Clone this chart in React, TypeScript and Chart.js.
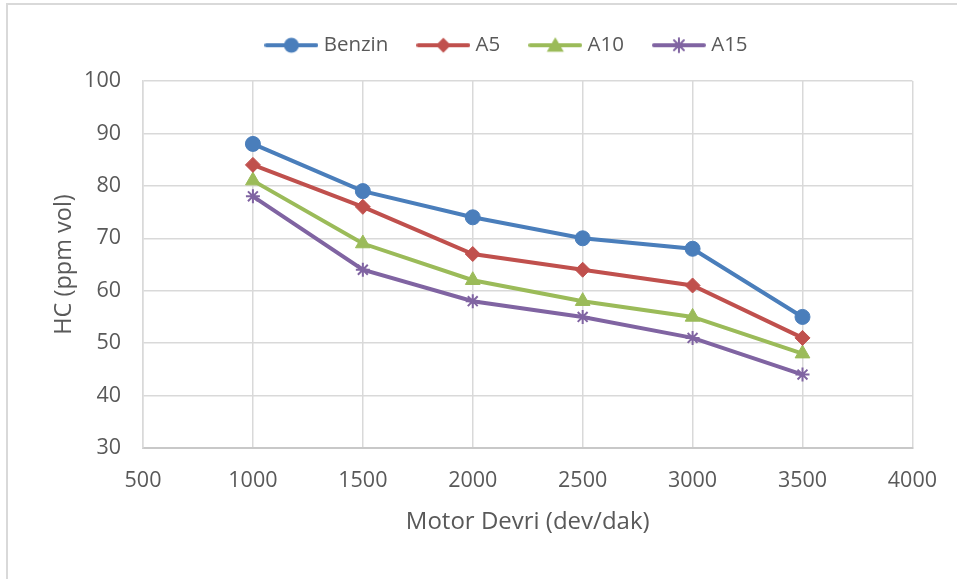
import React, { useEffect, useRef } from "react";
import { Chart, registerables } from "chart.js";

Chart.register(...registerables);

const rpm = [1000, 1500, 2000, 2500, 3000, 3500];
const benzin = [88, 79, 74, 70, 68, 55];
const a5 = [84, 76, 67, 64, 61, 51];
const a10 = [81, 69, 62, 58, 55, 48];
const a15 = [78, 64, 58, 55, 51, 44];
const seriesNames = ["Benzin", "A5", "A10", "A15"];
const seriesColors = ["#4A7EBB", "#C0504D", "#9BBB59", "#8064A2"];
const seriesStyles = ["circle", "rectRot", "triangle", "star"];
const seriesRadius = [7.5, 7.5, 8.5, 7];

const FONT = "'Open Sans', 'Liberation Sans', sans-serif";
const TEXT = "#595959";

function legendIcon(color: string, style: string): HTMLCanvasElement {
  const c = document.createElement("canvas");
  c.width = 54;
  c.height = 18;
  const ctx = c.getContext("2d")!;
  ctx.strokeStyle = color;
  ctx.fillStyle = color;
  ctx.lineWidth = 4;
  ctx.lineCap = "round";
  ctx.beginPath();
  ctx.moveTo(2, 9);
  ctx.lineTo(52, 9);
  ctx.stroke();
  const cx = 27, cy = 9;
  if (style === "circle") {
    ctx.beginPath();
    ctx.arc(cx, cy, 7.5, 0, Math.PI * 2);
    ctx.fill();
  } else if (style === "rectRot") {
    ctx.beginPath();
    ctx.moveTo(cx, cy - 7.5);
    ctx.lineTo(cx + 7.5, cy);
    ctx.lineTo(cx, cy + 7.5);
    ctx.lineTo(cx - 7.5, cy);
    ctx.closePath();
    ctx.fill();
  } else if (style === "triangle") {
    ctx.beginPath();
    ctx.moveTo(cx, cy - 8);
    ctx.lineTo(cx + 8.5, cy + 6.5);
    ctx.lineTo(cx - 8.5, cy + 6.5);
    ctx.closePath();
    ctx.fill();
  } else {
    ctx.lineWidth = 2;
    ctx.beginPath();
    const r = 7;
    for (let i = 0; i < 4; i++) {
      const a = (i * Math.PI) / 4;
      ctx.moveTo(cx + r * Math.cos(a), cy + r * Math.sin(a));
      ctx.lineTo(cx - r * Math.cos(a), cy - r * Math.sin(a));
    }
    ctx.stroke();
  }
  return c;
}

const CHART_TOP = 81;
const LEGEND_SHIFT = 20;

const legendHeightPlugin = {
  id: "legendHeight",
  beforeUpdate(chart: any) {
    const lg = chart.legend;
    if (lg && !lg.__wrapped) {
      const origFit = lg.fit.bind(lg);
      lg.fit = function () {
        origFit();
        this.height = CHART_TOP - chart.options.layout.padding.top;
      };
      const origDraw = lg.draw.bind(lg);
      lg.draw = function (...args: any[]) {
        const ctx = chart.ctx;
        ctx.save();
        ctx.translate(LEGEND_SHIFT, 0);
        origDraw(...args);
        ctx.restore();
      };
      lg.__wrapped = true;
    }
  },
};

export default function App() {
  const ref = useRef<HTMLCanvasElement | null>(null);

  useEffect(() => {
    document.body.style.margin = "0";
    const allData = [benzin, a5, a10, a15];
    const icons = seriesNames.map((_, i) => legendIcon(seriesColors[i], seriesStyles[i]));
    const chart = new Chart(ref.current!, {
      type: "line",
      data: {
        datasets: seriesNames.map((name, i) => ({
          label: name,
          data: rpm.map((x, j) => ({ x, y: allData[i][j] })),
          borderColor: seriesColors[i],
          backgroundColor: seriesColors[i],
          pointBackgroundColor: seriesColors[i],
          pointBorderColor: seriesColors[i],
          pointStyle: seriesStyles[i] as any,
          pointRadius: seriesRadius[i],
          pointBorderWidth: seriesStyles[i] === "star" ? 2 : 1,
          borderWidth: 4,
          tension: 0,
          fill: false,
        })),
      },
      plugins: [legendHeightPlugin],
      options: {
        animation: false,
        responsive: false,
        devicePixelRatio: 1,
        layout: { padding: { left: 60, right: 40, top: 2, bottom: 0 } },
        plugins: {
          tooltip: { enabled: false },
          legend: {
            position: "top",
            labels: {
              usePointStyle: true,
              pointStyleWidth: 44,
              padding: 33,
              color: TEXT,
              font: { family: FONT, size: 20.5 },
              generateLabels: (ch: any) => {
                const items = Chart.defaults.plugins.legend.labels.generateLabels(ch);
                return items.map((it: any, i: number) => ({ ...it, pointStyle: icons[i] }));
              },
            },
          },
        },
        scales: {
          x: {
            type: "linear",
            min: 500,
            max: 4000,
            ticks: {
              stepSize: 500,
              color: TEXT,
              font: { family: FONT, size: 21.5 },
              padding: 20,
              maxRotation: 0,
              callback: (v: any) => String(v),
            },
            grid: { color: "#D9D9D9", lineWidth: 1.5, drawTicks: false },
            border: { color: "#C8C8C8", width: 2 },
            title: {
              display: true,
              text: "Motor Devri (dev/dak)",
              color: TEXT,
              font: { family: FONT, size: 24 },
              padding: { top: 0, bottom: 42 },
            },
            afterFit: (s: any) => {
              s.height = 131;
            },
          },
          y: {
            type: "linear",
            min: 30,
            max: 100,
            ticks: {
              stepSize: 10,
              color: TEXT,
              font: { family: FONT, size: 21.5 },
              padding: 22,
              callback: (v: any) => String(v),
            },
            grid: { color: "#D9D9D9", lineWidth: 1.5, drawTicks: false },
            border: { color: "#D9D9D9", width: 1.5 },
            title: {
              display: true,
              text: "HC (ppm vol)",
              color: TEXT,
              font: { family: FONT, size: 23.5 },
              padding: { top: -10, bottom: 0 },
            },
            afterFit: (s: any) => {
              s.width = 83;
            },
          },
        },
      },
    });
    return () => chart.destroy();
  }, []);

  return (
    <div style={{ position: "relative", width: 957, height: 579, background: "#fff" }}>
      <div
        style={{
          position: "absolute",
          left: 6,
          top: 3,
          width: 960,
          height: 580,
          borderLeft: "2px solid #D9D9D9",
          borderTop: "2px solid #D9D9D9",
        }}
      />
      <canvas ref={ref} width={957} height={579} style={{ position: "absolute", left: 0, top: 0 }} />
    </div>
  );
}
